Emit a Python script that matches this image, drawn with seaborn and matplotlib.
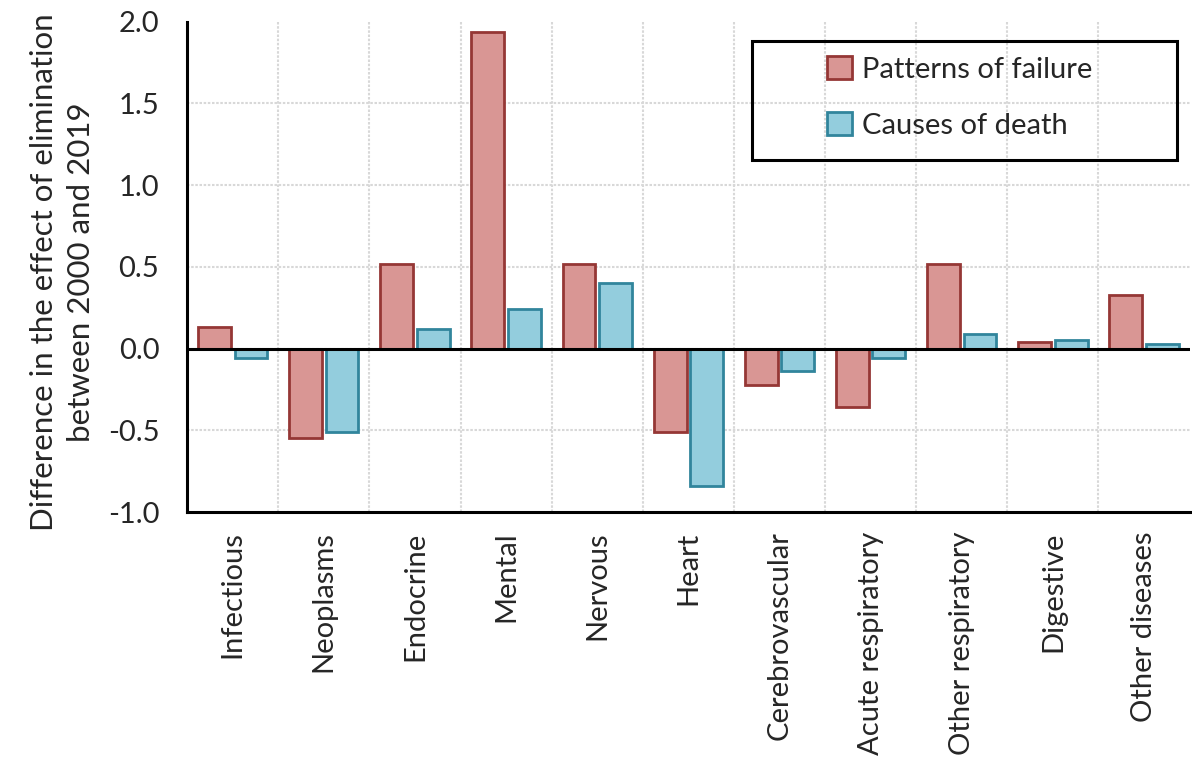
import matplotlib
matplotlib.use("Agg")
import matplotlib.pyplot as plt
from matplotlib.patches import Rectangle
import seaborn as sns
import pandas as pd

# values
categories = ["Infectious", "Neoplasms", "Endocrine", "Mental", "Nervous", "Heart",
              "Cerebrovascular", "Acute respiratory", "Other respiratory",
              "Digestive", "Other diseases"]
patterns_of_failure = [0.13, -0.55, 0.52, 1.94, 0.52, -0.51, -0.225, -0.355, 0.52, 0.04, 0.33]
causes_of_death = [-0.055, -0.51, 0.12, 0.245, 0.40, -0.84, -0.135, -0.06, 0.09, 0.055, 0.03]
series_names = ["Patterns of failure", "Causes of death"]
y_ticks = [-1.0, -0.5, 0.0, 0.5, 1.0, 1.5, 2.0]

df = pd.DataFrame({
    "category": categories * 2,
    "value": patterns_of_failure + causes_of_death,
    "series": [series_names[0]] * len(categories) + [series_names[1]] * len(categories),
})

sns.set_style("white")
plt.rcParams["font.family"] = ["Lato", "DejaVu Sans"]
FS = 21

fills = {series_names[0]: "#D99694", series_names[1]: "#93CDDD"}
edges = ["#953735", "#31859C"]

fig = plt.figure(figsize=(11.92, 7.77), dpi=100)
ax = fig.add_axes([0.157, 0.341, 0.841, 0.631])

sns.barplot(data=df, x="category", y="value", hue="series", palette=fills,
            width=0.8, gap=0.1, ax=ax, legend=True, saturation=1)

# outline colours per series
for container, ec in zip(ax.containers, edges):
    for bar in container:
        bar.set_edgecolor(ec)
        bar.set_linewidth(2)

ax.set_ylim(-1.0, 2.0)
ax.set_yticks(y_ticks)
ax.set_yticklabels([f"{t:.1f}" for t in y_ticks], fontsize=FS)
ax.set_xlim(-0.5, len(categories) - 0.5)

# grid: horizontal at y ticks, vertical between categories
for t in y_ticks[1:-1]:
    ax.axhline(t, color="#D8D8D8", lw=1.5, ls=(0, (1.2, 0.8)), zorder=0)
for k in range(1, len(categories)):
    ax.axvline(k - 0.5, color="#D8D8D8", lw=1.5, ls=(0, (1.2, 0.8)), zorder=0)
ax.axhline(0, color="black", lw=2.2, zorder=3)

ax.set_xticks(range(len(categories)))
ax.set_xticklabels(categories, rotation=90, fontsize=FS)
ax.tick_params(axis="x", length=0, pad=14)
ax.tick_params(axis="y", length=0, pad=20)
ax.set_xlabel("")
ax.set_ylabel("Difference in the effect of elimination\nbetween 2000 and 2019",
              fontsize=22.5, ha="center", va="center", linespacing=1.4)
ax.yaxis.set_label_coords(-0.124, 0.49)

for side in ["top", "right"]:
    ax.spines[side].set_visible(False)
for side in ["left", "bottom"]:
    ax.spines[side].set_color("black")
    ax.spines[side].set_linewidth(2.2)

# legend without its own frame, boxed by a rectangle like the reference
leg = ax.legend(loc="upper left", bbox_to_anchor=(0.694, 0.928),
                bbox_transform=fig.transFigure, fontsize=FS, frameon=False,
                labelspacing=1.0, borderpad=0, handlelength=0.85,
                handleheight=0.85, handletextpad=0.35, borderaxespad=0)
for h, ec in zip(leg.legend_handles, edges):
    h.set_edgecolor(ec)
    h.set_linewidth(2)
fig.patches.append(Rectangle((0.631, 0.794), 0.3565, 0.153, transform=fig.transFigure,
                             fill=False, edgecolor="black", lw=2.2, zorder=5))

fig.savefig("out.png", dpi=100)
